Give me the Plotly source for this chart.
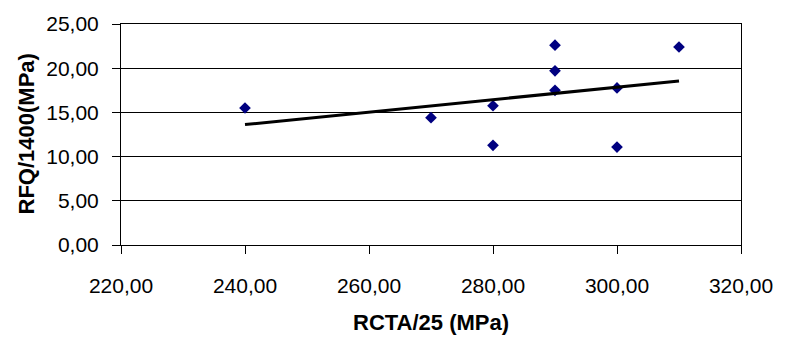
import numpy as np
import plotly.graph_objects as go

# Measured strengths
rcta_25 = [240, 270, 280, 280, 290, 290, 290, 300, 300, 310]
rfq_1400 = [15.5, 14.4, 15.75, 11.27, 22.6, 19.7, 17.5, 17.77, 11.08, 22.4]

x_ticks = [220, 240, 260, 280, 300, 320]
y_ticks = [0, 5, 10, 15, 20, 25]

def fmt(v):
    return f"{v:.2f}".replace(".", ",")

# Linear trend line through the data
slope, intercept = np.polyfit(rcta_25, rfq_1400, 1)
trend_x = [min(rcta_25), max(rcta_25)]
trend_y = [slope * v + intercept for v in trend_x]

font = "Liberation Sans, Arial, sans-serif"

fig = go.Figure()
fig.add_trace(go.Scatter(
    x=rcta_25, y=rfq_1400, mode="markers",
    marker=dict(symbol="diamond", size=9, color="#000080"),
    showlegend=False, hoverinfo="skip",
))
fig.add_trace(go.Scatter(
    x=trend_x, y=trend_y, mode="lines",
    line=dict(color="black", width=3),
    showlegend=False, hoverinfo="skip",
))

fig.update_layout(
    width=785, height=342,
    margin=dict(l=121, r=34, t=21, b=97),
    paper_bgcolor="white", plot_bgcolor="white",
    font=dict(family=font, size=21, color="black"),
)
fig.update_xaxes(
    range=[220, 320], tickvals=x_ticks, ticktext=[fmt(v) for v in x_ticks],
    showgrid=False, zeroline=False,
    showline=True, linecolor="black", linewidth=1, mirror=True,
    ticks="outside", ticklen=8, tickcolor="black", ticklabelstandoff=14,
)
fig.update_yaxes(
    range=[0, 25], tickvals=y_ticks, ticktext=[fmt(v) for v in y_ticks],
    showgrid=True, gridcolor="black", gridwidth=1, zeroline=False,
    showline=True, linecolor="black", linewidth=1, mirror=True,
    ticks="outside", ticklen=8, tickcolor="black", ticklabelstandoff=9,
)

fig.add_annotation(
    text="<b>RCTA/25 (MPa)</b>", xref="paper", yref="paper",
    x=0.5, y=0, xanchor="center", yanchor="middle", yshift=-77,
    showarrow=False, font=dict(family=font, size=22, color="black"),
)
fig.add_annotation(
    text="<b>RFQ/1400(MPa)</b>", xref="paper", yref="paper",
    x=0, y=0.5, xanchor="center", yanchor="middle", xshift=-95,
    textangle=-90, showarrow=False,
    font=dict(family=font, size=22, color="black"),
)

fig.write_html("out.html")
